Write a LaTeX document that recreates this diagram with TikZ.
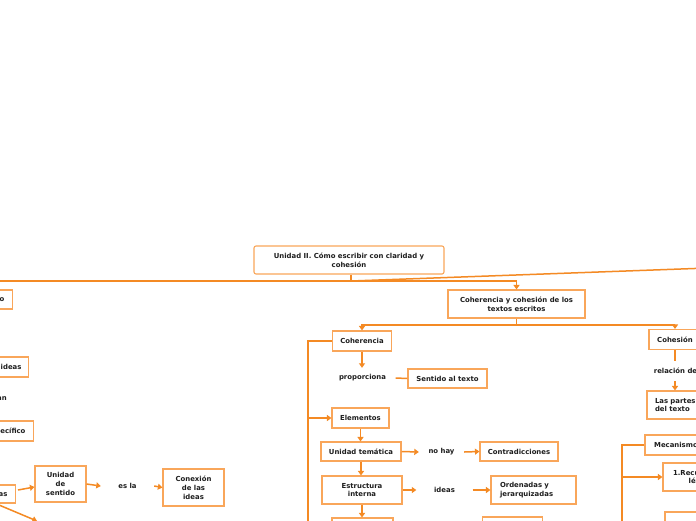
\documentclass[tikz,border=0pt]{standalone}
\usepackage{fontspec}
\setmainfont{DejaVu Sans}
\usetikzlibrary{arrows.meta}
\definecolor{boxc}{HTML}{F9A65A}
\definecolor{linec}{HTML}{F48A24}
\definecolor{txt}{HTML}{1E1E1E}
\begin{document}
\begin{tikzpicture}[x=1pt,y=-1pt,
  fnt/.style={font=\bfseries\fontsize{6.9}{8.8}\selectfont},
  box/.style={draw=boxc,line width=1.1pt,fill=white,text=txt,fnt,align=center,inner sep=0pt},
  sz/.style 2 args={minimum width=#1pt,minimum height=#2pt},
  lbl/.style={text=txt,fnt,inner sep=0pt,align=center},
  ln/.style={draw=linec,line width=1.5pt},
  arr/.style={draw=linec,line width=1.5pt,-{Triangle[length=4.5pt,width=6pt]}},
  trunk/.style={draw=linec,line width=2.8pt}]
\useasboundingbox (0,0) rectangle (696,520);
\fill[white] (0,0) rectangle (696,520);
\clip (0,0) rectangle (696,520);

% root and main branches
\node[box,sz={190}{28},rounded corners=2pt] (root) at (349,260) {Unidad II. Cómo escribir con claridad y\\cohesión};
\node[box,sz={137}{28}] (cc) at (516.5,304) {Coherencia y cohesión de los\\textos escritos};

% Coherencia column
\node[box,sz={59}{20}] (coh) at (362,341) {Coherencia};
\node[lbl,sz={66}{20}] (prop) at (362.5,378) {proporciona};
\node[box,sz={79}{19}] (sent) at (447.5,378.5) {Sentido al texto};
\node[box,sz={57}{20}] (elem) at (360.5,418) {Elementos};
\node[box,sz={80}{19}] (ut) at (361,451.5) {Unidad temática};
\node[lbl,sz={45}{19}] (nohay) at (441.5,452) {no hay};
\node[box,sz={78}{19}] (contra) at (519,451.5) {Contradicciones};
\node[box,sz={80}{28}] (est) at (362,490) {Estructura\\interna};
\node[lbl,sz={56}{20}] (ideas) at (444.5,490) {ideas};
\node[box,sz={85}{28},align=left,text width=67pt,inner xsep=9pt] (ord) at (533.5,490) {Ordenadas y\\jerarquizadas};
\node[box,sz={61}{24}] (b1) at (362.5,530) {};
\node[box,sz={60}{24}] (b2) at (512.5,529) {};

% Cohesion column
\node[box,sz={52}{20}] (cohes) at (675,339.5) {Cohesión};
\node[lbl,sz={48}{20}] (rel) at (675.5,371) {relación de};
\node[box,sz={59}{28},align=left,text width=43pt,inner xsep=8pt] (partes) at (676.5,405) {Las partes\\del texto};
\node[box,sz={66}{20}] (mec) at (678,445) {Mecanismos};
\node[box,sz={74}{28}] (recu) at (700,477) {1.Recurrencia\\léxica};
\node[box,sz={70}{26}] (b3) at (700,525) {};

% left column (cut off)
\node[box,sz={10}{19},anchor=east,inner xsep=8pt] (l1) at (13,299.5) {o};
\node[box,sz={10}{20},anchor=east,inner xsep=7pt] (l2) at (29,367) {ideas};
\node[lbl,anchor=east] (l3) at (7,399) {an};
\node[box,sz={10}{20},anchor=east,inner xsep=8pt] (l4) at (34,431) {específico};
\node[box,sz={10}{18},anchor=east,inner xsep=8pt] (l5) at (16,494) {ideas};
\node[box,sz={51}{36}] (usen) at (60.5,484) {Unidad\\de\\sentido};
\node[lbl,sz={53}{20}] (esla) at (127.5,486) {es la};
\node[box,sz={61}{37}] (conex) at (193.5,487.5) {Conexión\\de las\\ideas};

% connectors from root
\coordinate (j0) at (351,281);
\coordinate (lend) at (-2,281);
\coordinate (rend) at (700,268.3);
\draw[ln] (j0 |- root.south) -- (j0);
\draw[ln] (j0) -- (lend);
\draw[ln] (j0) -- (rend);
\draw[arr] (j0) -| (cc.north);

% from cc
\coordinate (j1) at (516.5,325);
\draw[ln] (cc.south) -- (j1);
\draw[arr] (j1) -| (coh.north);
\draw[arr] (j1) -| (cohes.north);

% coherencia column
\draw[arr] (coh.south) -- (coh.south |- prop.north);
\draw[ln] (prop.east) -- (sent.west);
\coordinate (t1) at (308,341);
\coordinate (t1b) at (308,525);
\draw[trunk] (coh.west) -- (t1) -- (t1b);
\draw[arr] (t1 |- elem.west) -- (elem.west);
\draw[arr] (elem.south) -- (elem.south |- ut.north);
\draw[arr] (ut.east) -- (nohay.west);
\draw[arr] (nohay.east) -- (contra.west);
\draw[arr] (ut.south) -- (ut.south |- est.north);
\draw[arr] (est.east) -- (ideas.west);
\draw[arr] (ideas.east) -- (ord.west);
\draw[arr] (est.south) -- (est.south |- b1.north);

% cohesion column
\draw[ln] (cohes.south) -- (cohes.south |- rel.north);
\draw[arr] (rel.south -| cohes.south) -- (cohes.south |- partes.north);
\coordinate (t2) at (622,445);
\coordinate (t2b) at (622,525);
\draw[trunk] (mec.west) -- (t2) -- (t2b);
\draw[arr] (t2 |- recu.west) -- (recu.west);

% left part
\draw[arr] ([xshift=2pt,yshift=4pt]l5.east) -- ([yshift=-3pt]usen.west);
\coordinate (ls) at (-1,505);
\coordinate (le) at (37,521);
\draw[arr] (ls) -- (le);
\draw[arr] (usen.east) -- (esla.west);
\draw[arr] (esla.east) -- (conex.west);
\end{tikzpicture}
\end{document}
